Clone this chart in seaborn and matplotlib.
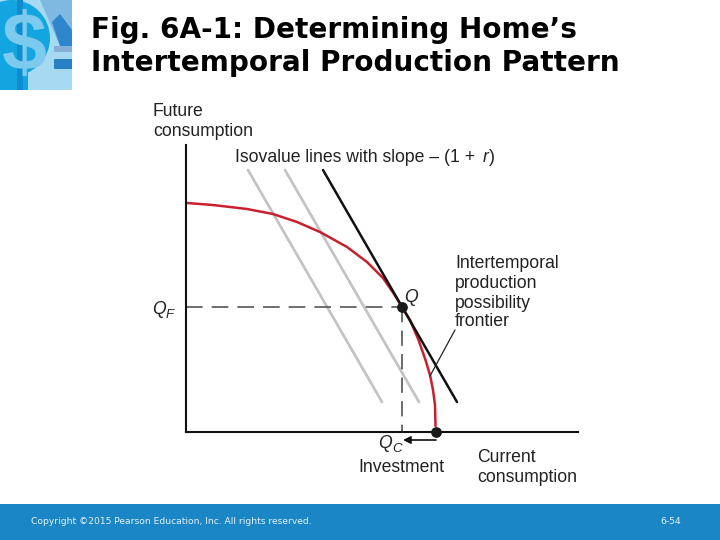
import matplotlib
matplotlib.use("Agg")
import matplotlib.pyplot as plt
import pandas as pd
import seaborn as sns
from matplotlib.patches import Rectangle, Polygon, Circle

W, H = 720, 540
sns.set_theme(style="white")
plt.rcParams['font.family'] = ['Liberation Sans', 'DejaVu Sans']

# Data (x = current consumption, y = future consumption)
frontier_x = [1, 27, 61, 87, 111, 134, 161, 181, 197, 208, 216, 224, 232.5, 239.5, 244, 247, 249, 249.5, 249.5]
frontier_y = [229, 227, 223, 218, 210, 200, 185, 170, 154, 138, 125, 112, 92, 72, 57, 42, 27, 12, 0]
iso_black_x = [137, 271]
iso_black_y = [262, 30]
iso_gray1_x = [99, 233]
iso_gray1_y = [262, 30]
iso_gray2_x = [62, 196]
iso_gray2_y = [262, 30]
q_x, q_y = 216, 125
end_x, end_y = 249.5, 0
title_lines = ["Fig. 6A-1: Determining Home’s", "Intertemporal Production Pattern"]
copyright_text = "Copyright ©2015 Pearson Education, Inc. All rights reserved."
page_text = "6-54"

fig = plt.figure(figsize=(7.2, 5.4), dpi=100, facecolor="white")

# Slide background layer in pixel coordinates
bg = fig.add_axes([0, 0, 1, 1])
bg.set_xlim(0, W); bg.set_ylim(H, 0); bg.axis("off")
bg.add_patch(Rectangle((0, 504), W, 36, color="#1B86C6", lw=0))

# Logo
clip = Rectangle((0, 0), 72, 90, transform=bg.transData)
bg.add_patch(Rectangle((0, 0), 72, 90, color="#A6DAF3", lw=0))
bg.add_patch(Polygon([[40, 0], [72, 0], [72, 46], [60, 46]], color="#7FB8E0", lw=0))
bg.add_patch(Polygon([[52, 22], [60, 14], [72, 30], [72, 46], [60, 46]], color="#2F86CC", lw=0))
bg.add_patch(Rectangle((54, 46), 18, 6, color="#86AFD8", lw=0))
bg.add_patch(Rectangle((54, 59), 18, 10, color="#2A80C6", lw=0))
c = Circle((12, 38), 38, color="#12A5DF", lw=0)
bg.add_patch(c); c.set_clip_path(clip)
bg.add_patch(Rectangle((0, 70), 28, 20, color="#12A5DF", lw=0))
t = bg.text(24, 49, "$", fontsize=58, color="#7CCBEF", ha="center", va="center", fontweight="bold")
t.set_clip_path(clip)
bg.add_patch(Rectangle((17, 0), 6, 90, color="#0F8BD0", lw=0))

# Title
for txt, y in zip(title_lines, [30, 63]):
    bg.text(91, y, txt, fontsize=20.05, fontweight="bold", family="DejaVu Sans",
            color="black", ha="left", va="center")

# Footer
bg.text(31, 521.5, copyright_text, fontsize=6.55, family="DejaVu Sans", color="#E6F2FA", ha="left", va="center")
bg.text(660, 521.5, page_text, fontsize=6.55, family="DejaVu Sans", color="#E6F2FA", ha="left", va="center")

# Chart axes: spines at left=186, bottom=432 px
ax = fig.add_axes([186 / W, 1 - 432 / H, 392 / W, 287 / H])
ax.patch.set_alpha(0)
ax.set_xlim(0, 392); ax.set_ylim(0, 287)
for s in ["top", "right"]:
    ax.spines[s].set_visible(False)
for s in ["left", "bottom"]:
    ax.spines[s].set_color("#111111"); ax.spines[s].set_linewidth(1.5)

for xs, ys in [(iso_gray2_x, iso_gray2_y), (iso_gray1_x, iso_gray1_y)]:
    sns.lineplot(data=pd.DataFrame({"x": xs, "y": ys}), x="x", y="y", ax=ax,
                 color="#C4C4C4", lw=2.0, sort=False, errorbar=None, clip_on=False)
sns.lineplot(data=pd.DataFrame({"x": frontier_x, "y": frontier_y}), x="x", y="y", ax=ax,
             color="#C8202F", lw=1.8, sort=False, errorbar=None)
sns.lineplot(data=pd.DataFrame({"x": iso_black_x, "y": iso_black_y}), x="x", y="y", ax=ax,
             color="#111111", lw=1.8, sort=False, errorbar=None, clip_on=False)

# Dashed guides
ax.plot([0, q_x], [q_y, q_y], color="#555555", lw=1.2, dashes=(10, 5.4))
ax.plot([q_x, q_x], [q_y, 0], color="#444444", lw=1.1, dashes=(10, 5.4))
sns.scatterplot(x=[q_x, end_x], y=[q_y, end_y], ax=ax, color="#1A1A1A", s=60, zorder=5,
                clip_on=False, linewidth=0, legend=False)
ax.set_xlabel(""); ax.set_ylabel("")
ax.set_xticks([]); ax.set_yticks([])

# Annotations (in pixel coords)
lab = dict(fontsize=12.7, color="#222222", va="center", ha="left")
sub = dict(fontsize=9.5, color="#222222", va="center", ha="left", style="italic")
bg.set_zorder(0); ax.set_zorder(1)
bg.text(153, 111, "Future", **lab)
bg.text(153, 131, "consumption", **lab)
bg.text(235, 157, "Isovalue lines with slope – (1 + ", **lab)
bg.text(483, 157, "r", style="italic", **lab)
bg.text(489, 157, ")", **lab)
for t, y in zip(["Intertemporal", "production", "possibility", "frontier"], [263, 283, 303, 322]):
    bg.text(455, y, t, **lab)
bg.text(404, 297, "Q", style="italic", **lab)
bg.text(152, 310, "Q", style="italic", **lab)
bg.text(166, 315, "F", **sub)
bg.text(378, 443, "Q", style="italic", **lab)
bg.text(392, 449, "C", **sub)
bg.text(358, 467, "Investment", **lab)
bg.text(477, 457, "Current", **lab)
bg.text(477, 477, "consumption", **lab)

top = fig.add_axes([0, 0, 1, 1]); top.set_xlim(0, W); top.set_ylim(H, 0); top.axis("off"); top.set_zorder(2)
top.plot([430, 455], [376, 330], color="#222222", lw=0.9)
top.annotate("", xy=(403, 440), xytext=(436, 440),
             arrowprops=dict(arrowstyle="-|>", color="#111111", lw=1.2, mutation_scale=11, shrinkA=0, shrinkB=0))

fig.savefig("out.png", dpi=100)
